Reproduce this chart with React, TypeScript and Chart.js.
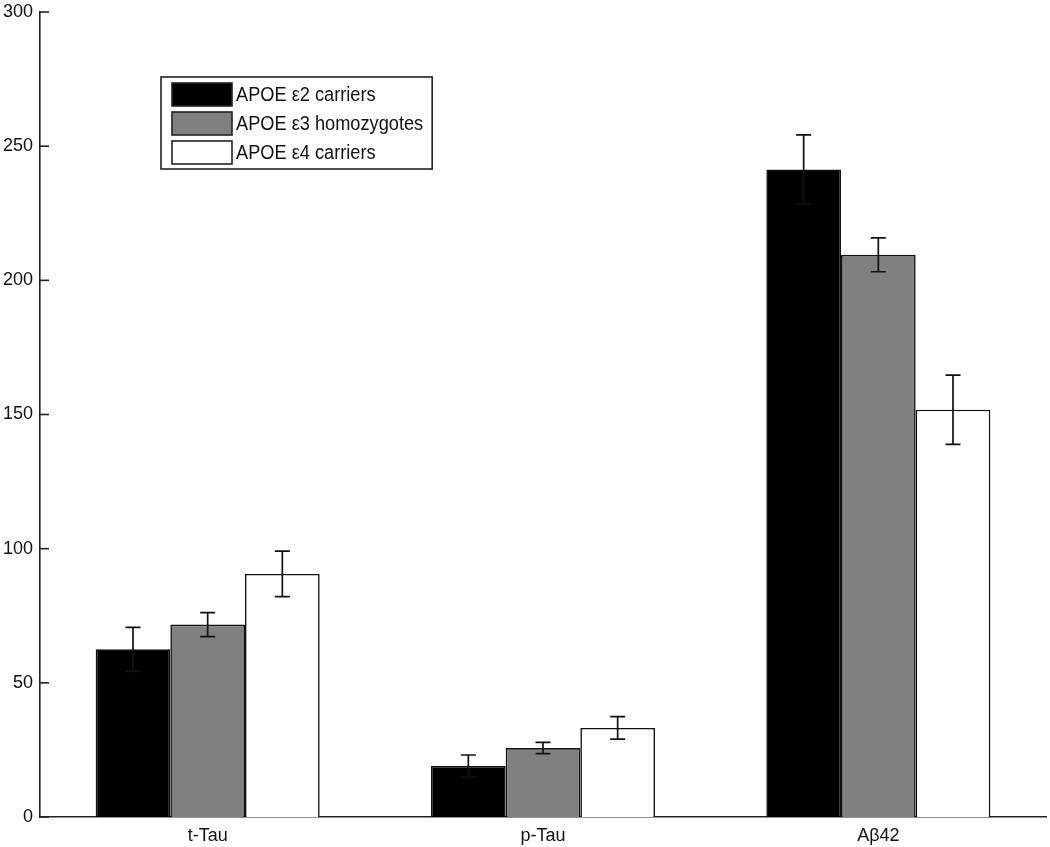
import React, { useEffect, useRef } from "react";
import { Chart, registerables } from "chart.js";

Chart.register(...registerables);

const categories = ["t-Tau", "p-Tau", "Aβ42"];
const seriesLabels = ["APOE ε2 carriers", "APOE ε3 homozygotes", "APOE ε4 carriers"];
const e2Values = [62.5, 19.0, 241.3];
const e2Errors = [8.2, 4.1, 12.9];
const e3Values = [71.7, 25.7, 209.5];
const e3Errors = [4.5, 2.1, 6.3];
const e4Values = [90.6, 33.2, 151.8];
const e4Errors = [8.5, 4.2, 12.9];
const yMin = 0;
const yMax = 300;
const yStep = 50;

const FONT = "'Liberation Sans', Arial, sans-serif";

export default function App() {
  const ref = useRef<HTMLCanvasElement | null>(null);

  useEffect(() => {
    if (!ref.current) return;
    const errors = [e2Errors, e3Errors, e4Errors];

    const errorBars = {
      id: "errorBars",
      afterDatasetsDraw(chart: any) {
        const ctx = chart.ctx;
        const y = chart.scales.y;
        ctx.save();
        ctx.strokeStyle = "#111";
        ctx.lineWidth = 1.7;
        chart.data.datasets.forEach((ds: any, i: number) => {
          const meta = chart.getDatasetMeta(i);
          meta.data.forEach((bar: any, j: number) => {
            const v = ds.data[j];
            const e = errors[i][j];
            const yt = y.getPixelForValue(v + e);
            const yb = y.getPixelForValue(v - e);
            const x = bar.x;
            const cap = 7.5;
            ctx.beginPath();
            ctx.moveTo(x, yt);
            ctx.lineTo(x, yb);
            ctx.moveTo(x - cap, yt);
            ctx.lineTo(x + cap, yt);
            ctx.moveTo(x - cap, yb);
            ctx.lineTo(x + cap, yb);
            ctx.stroke();
          });
        });
        ctx.restore();
      },
    };

    const inwardTicks = {
      id: "inwardTicks",
      afterDraw(chart: any) {
        const ctx = chart.ctx;
        const y = chart.scales.y;
        const left = chart.chartArea.left;
        ctx.save();
        ctx.strokeStyle = "#222";
        ctx.lineWidth = 1.6;
        y.ticks.forEach((t: any) => {
          const py = y.getPixelForValue(t.value);
          ctx.beginPath();
          ctx.moveTo(left, py);
          ctx.lineTo(left + 9, py);
          ctx.stroke();
        });
        ctx.restore();
      },
    };

    const boxLegend = {
      id: "boxLegend",
      afterDraw(chart: any) {
        const ctx = chart.ctx;
        const area = chart.chartArea;
        const bx = area.left + 121;
        const by = area.top + 65;
        const sx = 0.91;
        ctx.save();
        ctx.font = `20px ${FONT}`;
        let maxW = 0;
        chart.data.datasets.forEach((ds: any) => {
          maxW = Math.max(maxW, ctx.measureText(ds.label).width * sx);
        });
        const bw = 75 + maxW + 9;
        const bh = 92;
        ctx.fillStyle = "#fff";
        ctx.fillRect(bx, by, bw, bh);
        ctx.strokeStyle = "#222";
        ctx.lineWidth = 1.6;
        ctx.strokeRect(bx, by, bw, bh);
        ctx.textBaseline = "middle";
        chart.data.datasets.forEach((ds: any, i: number) => {
          const rowY = by + 6 + i * 29;
          ctx.fillStyle = ds.backgroundColor;
          ctx.fillRect(bx + 11, rowY, 60, 23);
          ctx.strokeStyle = "#222";
          ctx.lineWidth = 1.6;
          ctx.strokeRect(bx + 11, rowY, 60, 23);
          ctx.fillStyle = "#111";
          ctx.save();
          ctx.translate(bx + 75, rowY + 12.5);
          ctx.scale(sx, 1);
          ctx.fillText(ds.label, 0, 0);
          ctx.restore();
        });
        ctx.restore();
      },
    };

    const chart = new Chart(ref.current, {
      type: "bar",
      data: {
        labels: categories,
        datasets: [
          { label: seriesLabels[0], data: e2Values, backgroundColor: "#000000", borderColor: "#111", borderWidth: 1.6 },
          { label: seriesLabels[1], data: e3Values, backgroundColor: "#808080", borderColor: "#111", borderWidth: 1.6 },
          { label: seriesLabels[2], data: e4Values, backgroundColor: "#ffffff", borderColor: "#111", borderWidth: 1.6 },
        ],
      },
      options: {
        responsive: false,
        animation: false,
        layout: { padding: { top: 12, right: 4, left: 0, bottom: 0 } },
        datasets: { bar: { categoryPercentage: 0.668, barPercentage: 1.0 } },
        plugins: {
          legend: { display: false },
          tooltip: { enabled: false },
        },
        scales: {
          x: {
            offset: true,
            grid: { display: false, drawTicks: false },
            border: { display: true, color: "#222", width: 1.6 },
            ticks: { color: "#111", font: { family: FONT, size: 18 }, padding: 8 },
            afterFit(scale: any) {
              scale.height = 30;
              scale.paddingLeft = 0;
              scale.paddingRight = 0;
            },
          },
          y: {
            min: yMin,
            max: yMax,
            grid: { display: false, drawTicks: false },
            border: { display: true, color: "#222", width: 1.6 },
            ticks: { stepSize: yStep, color: "#111", font: { family: FONT, size: 18 }, padding: 7 },
            afterFit(scale: any) {
              scale.width = 40;
              scale.paddingTop = 0;
              scale.paddingBottom = 0;
            },
          },
        },
      },
      plugins: [errorBars, inwardTicks, boxLegend],
    });
    return () => chart.destroy();
  }, []);

  return (
    <div style={{ position: "absolute", left: 0, top: 0, width: 1050, height: 847, background: "#fff" }}>
      <canvas ref={ref} width={1050} height={847} style={{ width: 1050, height: 847 }} />
    </div>
  );
}
